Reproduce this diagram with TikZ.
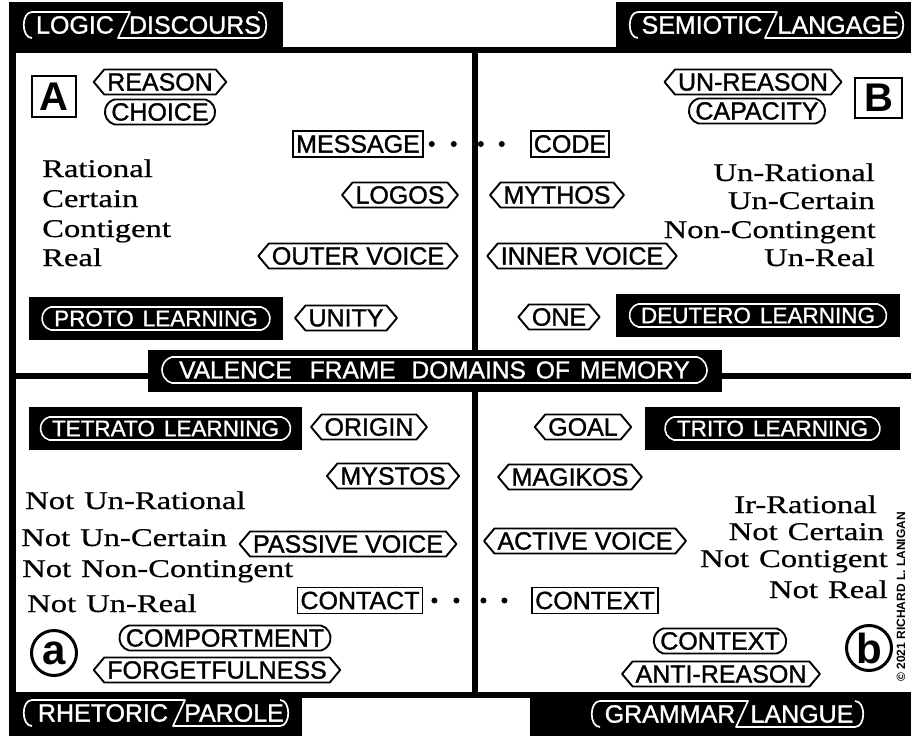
\documentclass[tikz,border=0pt]{standalone}
\usepackage{fontspec}
\setmainfont{Liberation Serif}[FakeStretch=1.28,FakeBold=0.6]
\newfontfamily\lblfont{Liberation Sans}[FakeBold=1.2]
\newfontfamily\lblboldfont{Liberation Sans Bold}
\usetikzlibrary{shapes.misc,shapes.symbols}

\tikzset{
  lbltxt/.style={font=\lblfont\fontsize{25}{25}\selectfont, inner ysep=0pt},
  hexbox/.style={lbltxt, draw, line width=1.9pt, line join=round, signal, signal to=west and east,
    signal pointer angle=100, minimum height=25pt, inner xsep=3pt},
  pillbox/.style={lbltxt, draw, line width=1.9pt, rounded rectangle, rounded rectangle arc length=150,
    minimum height=25pt, inner xsep=3pt},
  rectbox/.style={lbltxt, draw, line width=1.9pt, minimum height=26pt, inner xsep=3pt},
  letterbox/.style={draw, line width=2.5pt, inner sep=0pt, font=\lblboldfont\fontsize{40}{40}\selectfont},
  lettercirc/.style={circle, draw, line width=3pt, inner sep=0pt, minimum size=45pt, font=\lblboldfont\fontsize{42}{42}\selectfont},
  blackbox/.style={fill=black, inner sep=0pt},
  wpill/.style={draw=white, text=white, line width=1.6pt, rounded rectangle, rounded rectangle arc length=150,
    minimum height=23pt, inner sep=0pt, font=\lblfont\fontsize{22.5}{22.5}\selectfont},
  hdtxt/.style={text=white, inner sep=0pt, font=\lblfont\fontsize{25}{25}\selectfont},
  hdline/.style={draw=white, line width=1.7pt, line join=round},
  sertxt/.style={inner sep=0pt, font=\fontsize{25.5}{25.5}\selectfont},
  dotline/.style={line width=6pt, line cap=round},
  framefill/.style={fill=black}
}

% #1 name, #2 x left, #3 x slash, #4 x right, #5 y, #6 #7 words, #8 #9 word centres
\newcommand\splitpill[9]{%
  \node[hdtxt] (#1a) at (#8,#5) {#6};
  \node[hdtxt] (#1b) at (#9,#5) {#7};
  \draw[hdline] ({#2+10},{#5-13}) .. controls ({#2-1},{#5-13}) and ({#2-1},{#5+13}) .. ({#2+10},{#5+13});
  \draw[hdline] ({#2+10},{#5-13}) -- ({#3+6},{#5-13}) -- ({#3-6},{#5+13}) -- ({#4-10},{#5+13})
     .. controls ({#4+1},{#5+13}) and ({#4+1},{#5-13}) .. ({#4-10},{#5-13});
}

\begin{document}
\begin{tikzpicture}[x=1pt,y=-1pt]
\useasboundingbox (0,0) rectangle (911,736);
\fill[white] (0,0) rectangle (911,736);

% ---- frame ----
\fill[framefill] (9,2) rectangle (283,50);
\fill[framefill] (616,2) rectangle (911,50);
\fill[framefill] (9,47) rectangle (911,53);
\fill[framefill] (9,2) rectangle (16,736);
\fill[framefill] (472,50) rectangle (478,695);
\fill[framefill] (9,373) rectangle (911,379);
\fill[framefill] (9,692) rectangle (911,698);
\fill[framefill] (9,692) rectangle (302,736);
\fill[framefill] (530,692) rectangle (911,736);

% ---- corner headers ----
\splitpill{ld}{22}{124}{268}{25}{LOGIC}{DISCOURS}{75}{195}
\splitpill{sl}{628}{771}{905}{25}{SEMIOTIC}{LANGAGE}{702}{838}
\splitpill{rp}{22}{179}{290}{713}{RHETORIC}{PAROLE}{103}{234}
\splitpill{gl}{590}{742}{865}{714}{GRAMMAR}{LANGUE}{670}{802}

% ---- centre title ----
\node[blackbox, minimum width=574pt, minimum height=42pt] (valbg) at (435,371) {};
\node[wpill, minimum width=545pt, minimum height=26pt, font=\lblfont\fontsize{24.5}{24.5}\selectfont] (val) at (434.5,370)
  {VALENCE\hspace{18pt}FRAME\hspace{16pt}DOMAINS\hspace{10pt}OF\hspace{10pt}MEMORY};

% ---- quadrant A ----
\node[letterbox, minimum width=44pt, minimum height=41pt] (boxA) at (54,96.5) {A};
\node[hexbox] (reason) at (160,82) {REASON};
\node[pillbox] (choice) at (160,112) {CHOICE};
\node[rectbox] (msg) at (358,144) {MESSAGE};
\node[sertxt, anchor=base west] (ra1) at (42,177) {Rational};
\node[sertxt, anchor=base west] (ra2) at (42,207) {Certain};
\node[sertxt, anchor=base west] (ra3) at (42,237) {Contigent};
\node[sertxt, anchor=base west] (ra4) at (42,266) {Real};
\node[hexbox] (logos) at (400,195) {LOGOS};
\node[hexbox] (outer) at (358,256) {OUTER VOICE};
\node[blackbox, minimum width=254pt, minimum height=43pt] (protobg) at (156,318.5) {};
\node[wpill, minimum width=228pt] (proto) at (protobg) {PROTO\hspace{9pt}LEARNING};
\node[hexbox] (unity) at (346,318) {UNITY};

% ---- quadrant B ----
\node[hexbox] (unreason) at (753,82) {UN-REASON};
\node[pillbox] (capacity) at (757,111) {CAPACITY};
\node[letterbox, minimum width=47pt, minimum height=40pt] (boxB) at (878.5,98) {B};
\node[rectbox] (code) at (570,144) {CODE};
\node[sertxt, anchor=base east] (rb1) at (875,181) {Un-Rational};
\node[sertxt, anchor=base east] (rb2) at (875,209) {Un-Certain};
\node[sertxt, anchor=base east] (rb3) at (876,238) {Non-Contingent};
\node[sertxt, anchor=base east] (rb4) at (875,266) {Un-Real};
\node[hexbox] (mythos) at (557,195) {MYTHOS};
\node[hexbox] (inner) at (582,256) {INNER VOICE};
\node[hexbox] (one) at (559,317) {ONE};
\node[blackbox, minimum width=284pt, minimum height=43pt] (deuterobg) at (758,315.5) {};
\node[wpill, minimum width=257pt] (deutero) at (deuterobg) {DEUTERO\hspace{9pt}LEARNING};

% ---- quadrant a ----
\node[blackbox, minimum width=273pt, minimum height=43pt] (tetratobg) at (165.5,428.5) {};
\node[wpill, minimum width=250pt] (tetrato) at (tetratobg) {TETRATO\hspace{9pt}LEARNING};
\node[hexbox] (origin) at (369,427) {ORIGIN};
\node[hexbox] (mystos) at (393,476) {MYSTOS};
\node[sertxt, anchor=base west] (na1) at (25,509) {Not\hspace{10pt}Un-Rational};
\node[sertxt, anchor=base west] (na2) at (21,546) {Not\hspace{10pt}Un-Certain};
\node[sertxt, anchor=base west] (na3) at (22,577) {Not\hspace{10pt}Non-Contingent};
\node[sertxt, anchor=base west] (na4) at (27,612) {Not\hspace{10pt}Un-Real};
\node[hexbox] (passive) at (348,544) {PASSIVE VOICE};
\node[rectbox] (contact) at (360,600.5) {CONTACT};
\node[lettercirc] (circa) at (54,653) {a};
\node[pillbox] (comport) at (225,638) {COMPORTMENT};
\node[hexbox] (forget) at (217,670) {FORGETFULNESS};

% ---- quadrant b ----
\node[hexbox] (goal) at (583,427) {GOAL};
\node[blackbox, minimum width=255pt, minimum height=43pt] (tritobg) at (772.5,428.5) {};
\node[wpill, minimum width=215pt] (trito) at (tritobg) {TRITO\hspace{9pt}LEARNING};
\node[hexbox] (magikos) at (570,477) {MAGIKOS};
\node[sertxt, anchor=base east] (nb1) at (877,513) {Ir-Rational};
\node[sertxt, anchor=base east] (nb2) at (884,540) {Not\hspace{10pt}Certain};
\node[sertxt, anchor=base east] (nb3) at (888,567) {Not\hspace{10pt}Contigent};
\node[sertxt, anchor=base east] (nb4) at (888,598) {Not\hspace{10pt}Real};
\node[hexbox] (active) at (585,541) {ACTIVE VOICE};
\node[rectbox] (context) at (595,600.5) {CONTEXT};
\node[pillbox] (contextp) at (720,641) {CONTEXT};
\node[hexbox] (anti) at (721,674) {ANTI-REASON};
\node[lettercirc] (circb) at (869,648) {b};

% ---- dotted connectors ----
\draw[dotline, dash pattern=on 0pt off 22pt on 0pt off 27pt on 0pt off 21pt on 0pt off 300pt,
      shorten <=8pt, shorten >=22pt] (msg.east) -- (code.west);
\draw[dotline, dash pattern=on 0pt off 22pt on 0pt off 27pt on 0pt off 21pt on 0pt off 300pt,
      shorten <=11pt, shorten >=22pt] (contact.east) -- (context.west);

% ---- copyright ----
\node[rotate=90, inner sep=0pt, font=\lblboldfont\fontsize{12}{12}\selectfont] (copy) at (901,597)
  {© 2021 RICHARD L. LANIGAN};
\end{tikzpicture}
\end{document}
